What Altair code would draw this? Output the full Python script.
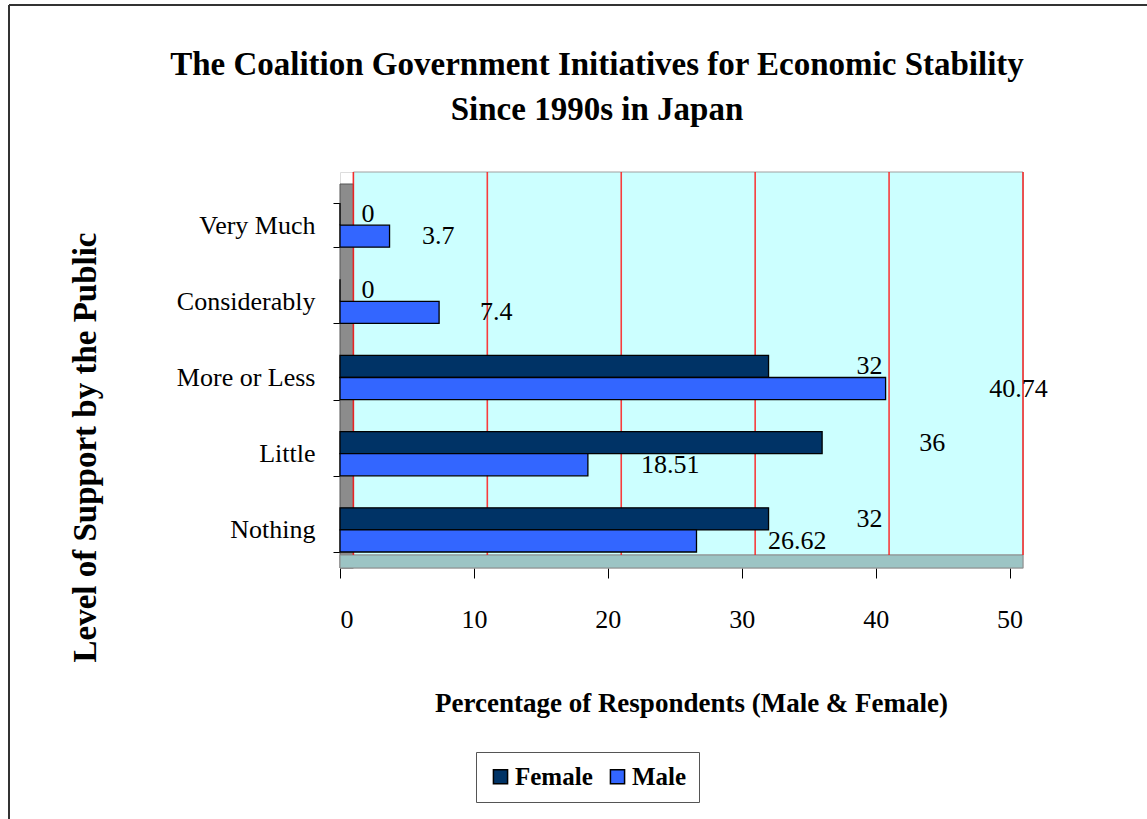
import altair as alt
import pandas as pd

categories = ["Very Much", "Considerably", "More or Less", "Little", "Nothing"]
female = [0, 0, 32, 36, 32]
male = [3.7, 7.4, 40.74, 18.51, 26.62]
series = ["Female", "Male"]
x_ticks = [0, 10, 20, 30, 40, 50]
title_line1 = "The Coalition Government Initiatives for Economic Stability"
title_line2 = "Since 1990s in Japan"

rows = []
for c, f, m in zip(categories, female, male):
    rows.append({"Level": c, "Series": "Female", "Value": f})
    rows.append({"Level": c, "Series": "Male", "Value": m})
df = pd.DataFrame(rows)

DEPTH = 1  # 3D depth offset in data units
grid_df = pd.DataFrame({"g": [t + DEPTH for t in x_ticks]})

FONT = "Liberation Serif"
W, H = 683, 396
FLOOR = 383

xscale = alt.Scale(domain=[0, 51], nice=False, zero=True)
yscale = alt.Scale(domain=categories, paddingInner=0.42, paddingOuter=0.3085, align=0.66)

base = alt.Chart(df)

wall = alt.Chart(pd.DataFrame({"a": [DEPTH], "b": [x_ticks[-1] + DEPTH]})).mark_rect(
    fill="#CCFFFF", stroke="#A0A0A0", strokeWidth=1
).encode(x=alt.X("a:Q", scale=xscale), x2="b:Q", y=alt.value(0), y2=alt.value(FLOOR))

side = alt.Chart(pd.DataFrame({"a": [0], "b": [DEPTH]})).mark_rect(
    fill="#8C8C8C", stroke="#555555", strokeWidth=1
).encode(x=alt.X("a:Q", scale=xscale), x2="b:Q", y=alt.value(12), y2=alt.value(H))

floor = alt.Chart(pd.DataFrame({"a": [0], "b": [x_ticks[-1] + DEPTH]})).mark_rect(
    fill="#9CC4C4", stroke="#8A8A8A", strokeWidth=1
).encode(x=alt.X("a:Q", scale=xscale), x2="b:Q", y=alt.value(FLOOR), y2=alt.value(H))

grid = alt.Chart(grid_df).mark_rule(color="#FF1A1A", strokeWidth=1.6, opacity=0.85).encode(
    x=alt.X("g:Q", scale=xscale), y=alt.value(0), y2=alt.value(FLOOR)
)

bars = base.mark_bar(stroke="#000000", strokeWidth=1.3, cornerRadius=0).encode(
    x=alt.X("Value:Q", scale=xscale,
            axis=alt.Axis(values=x_ticks, grid=False, domain=False, tickColor="#000000",
                          tickSize=10, labelPadding=28, labelFont=FONT, labelFontSize=26,
                          labelColor="#000000",
                          title="Percentage of Respondents (Male & Female)",
                          titleFont=FONT, titleFontSize=27, titleFontWeight="bold",
                          titleColor="#000000", titleY=135, titleBaseline="middle",
                          titleX=351)),
    y=alt.Y("Level:N", scale=yscale, sort=categories,
            axis=alt.Axis(tickBand="extent", domain=False, grid=False, tickSize=7,
                          tickColor="#000000", labelPadding=18, labelFont=FONT,
                          labelFontSize=26, labelColor="#000000", labelLimit=300,
                          title="Level of Support by the Public", titleFont=FONT,
                          titleFontSize=33, titleFontWeight="bold", titleColor="#000000",
                          titleAngle=-90, titleX=-255, titleY=275, titleAlign="center",
                          titleBaseline="middle")),
    yOffset=alt.YOffset("Series:N", sort=series),
    color=alt.Color("Series:N", sort=series,
                    scale=alt.Scale(domain=series, range=["#003366", "#3366FF"]),
                    legend=alt.Legend(orient="none", legendX=136, legendY=580,
                                      direction="horizontal", title=None,
                                      symbolType="square", symbolSize=200,
                                      symbolStrokeColor="#000000", symbolStrokeWidth=1.5,
                                      labelFont=FONT, labelFontSize=25,
                                      labelFontWeight="bold", labelColor="#000000",
                                      strokeColor="#555555", fillColor="#FFFFFF",
                                      padding=12, columnPadding=12, labelOffset=2,
                                      symbolOpacity=1)),
)

labels = base.transform_calculate(
    lx="datum.Series == 'Male' ? datum.Value * 1.17 + 3.0 : datum.Value * 1.17 + 2.1"
).mark_text(font=FONT, fontSize=26, color="#000000", align="center", baseline="middle").encode(
    x=alt.X("lx:Q", scale=xscale),
    y=alt.Y("Level:N", scale=yscale, sort=categories),
    yOffset=alt.YOffset("Series:N", sort=series),
    text=alt.Text("Value:Q", format="~g"),
)


def title_text(line, ypix):
    return alt.Chart(pd.DataFrame({"t": [line]})).mark_text(
        font=FONT, fontSize=33, fontWeight="bold", color="#000000", align="center",
        baseline="middle"
    ).encode(text="t:N", x=alt.value(257), y=alt.value(ypix))


title1 = title_text(title_line1, -107)
title2 = title_text(title_line2, -62)

frame_top = alt.Chart(pd.DataFrame({"k": [0]})).mark_rule(color="#333333", strokeWidth=2).encode(
    x=alt.value(-331), x2=alt.value(W + 124), y=alt.value(-167)
)
frame_left = alt.Chart(pd.DataFrame({"k": [0]})).mark_rule(color="#333333", strokeWidth=2).encode(
    x=alt.value(-331), y=alt.value(-167), y2=alt.value(H + 251)
)

chart = alt.layer(wall, side, floor, grid, bars, labels, title1, title2, frame_top, frame_left).properties(
    width=W, height=H,
    autosize=alt.AutoSizeParams(type="none"),
    padding={"left": 340, "top": 172, "right": 124, "bottom": 251},
).configure_view(stroke=None).configure(background="#FFFFFF")

chart.save("out.html", embed_options={"renderer": "svg", "actions": False})
